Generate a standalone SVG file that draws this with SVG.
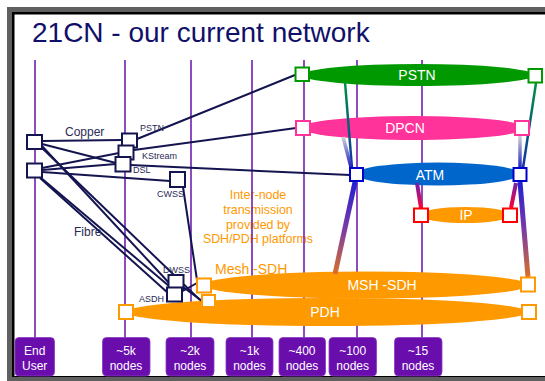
<svg xmlns="http://www.w3.org/2000/svg" width="545" height="381" viewBox="0 0 545 381">
<defs>
<style>
.vl{stroke:#7020b0;stroke-width:1.6;fill:none}
.cn{stroke:#141450;stroke-width:2;fill:none}
.nb{fill:#fff;stroke:#141450;stroke-width:2}
.sl{font-family:"Liberation Sans",Arial,sans-serif;font-size:9px;fill:#2a2a55}
.et{font-family:"Liberation Sans",Arial,sans-serif;font-size:14px;fill:#fff;text-anchor:middle}
.ot{font-family:"Liberation Sans",Arial,sans-serif;fill:#ff9900}
.lb{fill:#6a0dad;stroke:#8a3ac0;stroke-width:0.8}
.lt{font-family:"Liberation Sans",Arial,sans-serif;font-size:12px;fill:#fff;text-anchor:middle}
</style>
<linearGradient id="gAL" gradientUnits="userSpaceOnUse" x1="355" y1="182" x2="335" y2="274">
<stop offset="0" stop-color="#2020d0"/><stop offset="0.5" stop-color="#7a3aa8"/><stop offset="1" stop-color="#d8702a"/></linearGradient>
<linearGradient id="gAR" gradientUnits="userSpaceOnUse" x1="520" y1="182" x2="528" y2="277">
<stop offset="0" stop-color="#2020d0"/><stop offset="0.5" stop-color="#7a3aa8"/><stop offset="1" stop-color="#d8702a"/></linearGradient>
<linearGradient id="gIL" gradientUnits="userSpaceOnUse" x1="417" y1="183" x2="421" y2="208">
<stop offset="0" stop-color="#7020b0"/><stop offset="1" stop-color="#ff0033"/></linearGradient>
<linearGradient id="gIR" gradientUnits="userSpaceOnUse" x1="516" y1="183" x2="511" y2="208">
<stop offset="0" stop-color="#7020b0"/><stop offset="1" stop-color="#ff0033"/></linearGradient>
<linearGradient id="gPL" gradientUnits="userSpaceOnUse" x1="345" y1="82" x2="352" y2="168">
<stop offset="0" stop-color="#009040"/><stop offset="1" stop-color="#1030b0"/></linearGradient>
<linearGradient id="gPR" gradientUnits="userSpaceOnUse" x1="536" y1="83" x2="523" y2="168">
<stop offset="0" stop-color="#009040"/><stop offset="1" stop-color="#1030b0"/></linearGradient>
<linearGradient id="gDL" gradientUnits="userSpaceOnUse" x1="343" y1="137" x2="351" y2="167">
<stop offset="0" stop-color="#d0d0d8"/><stop offset="1" stop-color="#2020c0"/></linearGradient>
<linearGradient id="gDR" gradientUnits="userSpaceOnUse" x1="520" y1="136" x2="520" y2="168">
<stop offset="0" stop-color="#d0d0d8"/><stop offset="1" stop-color="#2020c0"/></linearGradient>
</defs>

<!-- frame -->
<rect x="7" y="7" width="545" height="374" fill="#606060"/>
<rect x="12" y="12" width="540" height="365" fill="#000"/>
<rect x="14.5" y="14.5" width="535" height="361.5" fill="#fff"/>

<text x="32" y="42" font-family="'Liberation Sans',Arial,sans-serif" font-size="28" fill="#10106a">21CN - our current network</text>

<g id="note">
<text class="ot" font-size="12.4" text-anchor="middle"><tspan x="258" y="199">Inter-node</tspan><tspan x="258" y="214">transmission</tspan><tspan x="258" y="228.5">provided by</tspan><tspan x="258" y="243">SDH/PDH platforms</tspan></text>
<text class="ot" font-size="14" x="215" y="274">Mesh -SDH</text>
</g>

<!-- vertical level lines -->
<g id="levels">
<line class="vl" x1="35" y1="60" x2="35" y2="338"/>
<line class="vl" x1="125" y1="60" x2="125" y2="338"/>
<line class="vl" x1="191" y1="60" x2="191" y2="338"/>
<line class="vl" x1="252" y1="60" x2="252" y2="338"/>
<line class="vl" x1="304" y1="60" x2="304" y2="338"/>
<line class="vl" x1="357" y1="60" x2="357" y2="338"/>
<line class="vl" x1="422" y1="60" x2="422" y2="338"/>
</g>

<!-- layer ellipses -->
<g id="pstn-layer">
<ellipse cx="418" cy="75" rx="116" ry="11" fill="#009900"/>
<text class="et" x="417" y="80">PSTN</text>
</g>
<g id="dpcn-layer">
<ellipse cx="413" cy="128" rx="112" ry="12" fill="#ff3399"/>
<text class="et" x="405" y="133">DPCN</text>
</g>
<g id="atm-layer">
<ellipse cx="438" cy="174" rx="82" ry="11.5" fill="#0066cc"/>
<text class="et" x="430" y="180">ATM</text>
</g>
<g id="ip-layer">
<ellipse cx="465.5" cy="215" rx="45" ry="8" fill="#ff9900"/>
<text class="et" x="466" y="220">IP</text>
</g>
<g id="msh-layer">
<ellipse cx="366" cy="285" rx="162" ry="13.5" fill="#ff9900"/>
<text class="et" x="382" y="290">MSH -SDH</text>
</g>
<g id="pdh-layer">
<ellipse cx="327" cy="312" rx="201" ry="14" fill="#ff9900"/>
<text class="et" x="325" y="317">PDH</text>
</g>

<!-- connectors -->
<g id="connectors">
<line x1="345" y1="82" x2="352" y2="168" stroke="url(#gPL)" stroke-width="2.5"/>
<line x1="536" y1="83" x2="523" y2="168" stroke="url(#gPR)" stroke-width="2.5"/>
<line x1="343" y1="137" x2="351" y2="167" stroke="url(#gDL)" stroke-width="3.5"/>
<line x1="520" y1="136" x2="520" y2="168" stroke="url(#gDR)" stroke-width="3.5"/>
<line x1="355" y1="182" x2="335" y2="274" stroke="url(#gAL)" stroke-width="5"/>
<line x1="520" y1="182" x2="528" y2="277" stroke="url(#gAR)" stroke-width="5"/>
<line x1="417" y1="183" x2="421" y2="208" stroke="url(#gIL)" stroke-width="4"/>
<line x1="516" y1="183" x2="511" y2="208" stroke="url(#gIR)" stroke-width="4"/>

<line class="cn" x1="42" y1="141" x2="122" y2="140"/>
<line class="cn" x1="42" y1="144" x2="116" y2="163"/>
<line class="cn" x1="42" y1="146" x2="170" y2="284"/>
<line class="cn" x1="42" y1="148" x2="200" y2="300"/>
<line class="cn" x1="42" y1="168" x2="119" y2="153"/>
<line class="cn" x1="42" y1="170" x2="116" y2="164"/>
<line class="cn" x1="42" y1="172" x2="170" y2="181"/>
<line class="cn" x1="40" y1="177" x2="169" y2="286"/>
<line class="cn" x1="40" y1="178" x2="168" y2="293"/>
<line class="cn" x1="137" y1="139" x2="295" y2="75"/>
<line class="cn" x1="134" y1="150" x2="296" y2="128"/>
<line class="cn" x1="130" y1="165" x2="350" y2="175"/>
<line class="cn" x1="183" y1="187" x2="197" y2="280"/>
<line class="cn" x1="183" y1="287" x2="202" y2="301"/>
<line class="cn" x1="181" y1="292" x2="197" y2="283"/>
</g>

<!-- layer end boxes -->
<g id="pstn-boxes" fill="#fff" stroke="#009900" stroke-width="2">
<rect x="295.5" y="67.5" width="13.5" height="13.5"/>
<rect x="528.5" y="69" width="13.5" height="13.5"/>
</g>
<g id="dpcn-boxes" fill="#fff" stroke="#ff3399" stroke-width="2">
<rect x="296" y="121" width="14" height="14"/>
<rect x="515" y="121" width="14" height="14"/>
</g>
<g id="atm-boxes" fill="#fff" stroke="#0000cc" stroke-width="2">
<rect x="350" y="168" width="13" height="13"/>
<rect x="513.5" y="168" width="13" height="13"/>
</g>
<g id="ip-boxes" fill="#fff" stroke="#ff0000" stroke-width="2">
<rect x="414" y="208.5" width="14" height="13.5"/>
<rect x="503" y="208.5" width="14" height="13.5"/>
</g>
<g id="msh-boxes" fill="#fff" stroke="#ff9900" stroke-width="2">
<rect x="197" y="278.5" width="14" height="14"/>
<rect x="521" y="277.5" width="14" height="14"/>
</g>
<g id="pdh-boxes" fill="#fff" stroke="#ff9900" stroke-width="2">
<rect x="202" y="295" width="13" height="12"/>
<rect x="119" y="305" width="14" height="14"/>
<rect x="522" y="305" width="14" height="14"/>
</g>

<!-- access nodes -->
<g id="enduser1"><rect class="nb" x="27" y="135" width="15" height="14"/></g>
<g id="enduser2"><rect class="nb" x="27" y="163.5" width="15" height="14"/></g>
<g id="pstn-node"><rect class="nb" x="122" y="133.5" width="15" height="14"/><text class="sl" x="140" y="131">PSTN</text></g>
<g id="kstream-node"><rect class="nb" x="118.5" y="145.5" width="15" height="14"/><text class="sl" x="142" y="159">KStream</text></g>
<g id="dsl-node"><rect class="nb" x="115.5" y="157" width="15" height="14.5"/><text class="sl" x="133" y="173">DSL</text></g>
<g id="cwss-node"><rect class="nb" x="170" y="172" width="15" height="15"/><text class="sl" x="157" y="197">CWSS</text></g>
<g id="dwss-node"><rect class="nb" x="168.5" y="275" width="15" height="14"/><text class="sl" x="163" y="273">DWSS</text></g>
<g id="asdh-node"><rect class="nb" x="167" y="287.5" width="15" height="14"/><text class="sl" x="139" y="302">ASDH</text></g>

<text x="65" y="136" font-family="'Liberation Sans',Arial,sans-serif" font-size="12" fill="#2a2a55">Copper</text>
<text x="74" y="236" font-family="'Liberation Sans',Arial,sans-serif" font-size="12" fill="#2a2a55">Fibre</text>

<!-- level labels -->
<g id="lbl-enduser"><rect class="lb" x="15" y="337.5" width="39.5" height="38.5" rx="4"/><text class="lt"><tspan x="34.7" y="354.5">End</tspan><tspan x="34.7" y="370">User</tspan></text></g>
<g id="lbl-5k"><rect class="lb" x="102.5" y="337.5" width="47.5" height="38.5" rx="4"/><text class="lt"><tspan x="126" y="354.5">~5k</tspan><tspan x="126" y="370">nodes</tspan></text></g>
<g id="lbl-2k"><rect class="lb" x="166" y="337.5" width="48" height="38.5" rx="4"/><text class="lt"><tspan x="190" y="354.5">~2k</tspan><tspan x="190" y="370">nodes</tspan></text></g>
<g id="lbl-1k"><rect class="lb" x="226" y="337.5" width="47" height="38.5" rx="4"/><text class="lt"><tspan x="249.5" y="354.5">~1k</tspan><tspan x="249.5" y="370">nodes</tspan></text></g>
<g id="lbl-400"><rect class="lb" x="279" y="337.5" width="46.5" height="38.5" rx="4"/><text class="lt"><tspan x="302" y="354.5">~400</tspan><tspan x="302" y="370">nodes</tspan></text></g>
<g id="lbl-100"><rect class="lb" x="329" y="337.5" width="47.5" height="38.5" rx="4"/><text class="lt"><tspan x="352.7" y="354.5">~100</tspan><tspan x="352.7" y="370">nodes</tspan></text></g>
<g id="lbl-15"><rect class="lb" x="394.5" y="337.5" width="47.5" height="38.5" rx="4"/><text class="lt"><tspan x="418" y="354.5">~15</tspan><tspan x="418" y="370">nodes</tspan></text></g>
</svg>
